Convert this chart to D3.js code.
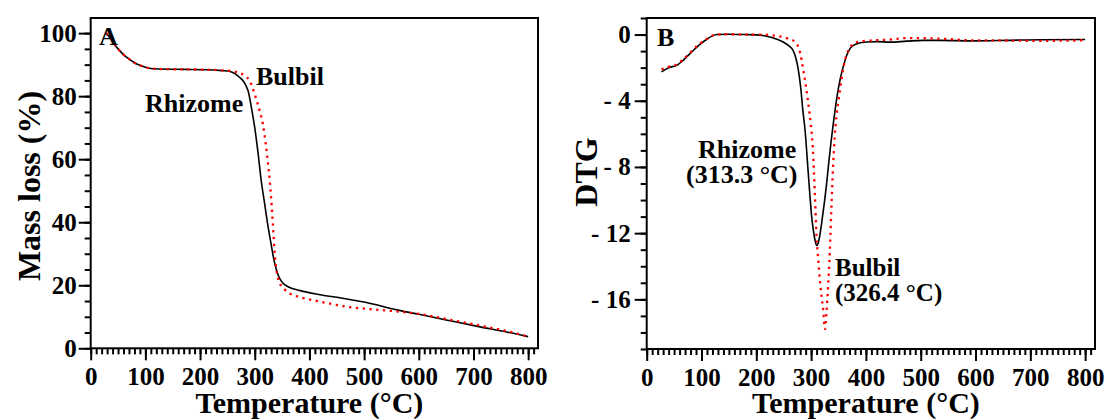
<!DOCTYPE html>
<html>
<head>
<meta charset="utf-8">
<script src="https://cdn.jsdelivr.net/npm/d3@7"></script>
<style>
  body { margin: 0; background: #fff; }
</style>
</head>
<body>
<div id="chart-area"></div>
<script>
const FONT = "Liberation Serif"

// TG curves (temperature °C, mass %)
let rhizomeTG = [[28,100],[35,98.6],[42,96.8],[50,95],[60,93.2],[70,91.8],[80,90.6],[90,89.8],[100,89.2],[110,88.8],[130,88.6],[170,88.5],[210,88.4],[240,88.1],
  [255,87.8],[265,87],[272,86],[279,84.8],[284,83.3],[288,81.6],[294,76.3],[300,70],[306,62],[312,53],[318,46],[324,39],[330,33],[334,29],[340,24.7],[346,22],
  [352,20.6],[360,19.6],[383,18.3],[420,17.0],[460,15.9],[500,14.7],[560,12.2],[600,10.8],[650,9.0],[712,6.8],[760,5.2],[800,3.7]]
let bulbilTG = [[28,100],[35,98.6],[42,96.8],[50,95],[60,93.2],[70,91.8],[80,90.6],[90,89.8],[100,89.2],[110,88.8],[130,88.6],[170,88.5],[210,88.4],[240,88.2],
  [255,88],[265,87.7],[273,87.3],[282,86.5],[291,84.8],[300,80.6],[309,75.3],[315,71],[320,65],[324,59],[328,52],[331,45],[334,37],[337,29],[340,24.5],[346,20.6],
  [355,18.6],[364,17.4],[383,16.2],[420,14.8],[468,13.2],[520,12.3],[560,11.7],[600,10.9],[650,9.3],[712,7.2],[760,5.5],[800,3.7]]

// DTG curves (temperature °C, DTG)
let rhizomeDTG = [[27,-2.26],[40,-2.0],[55,-1.86],[65,-1.6],[79,-1.15],[95,-0.65],[109,-0.3],[120,-0.08],[128,0],[150,0.02],[180,0],[200,-0.02],[212,-0.06],
  [230,-0.2],[249,-0.45],[260,-0.7],[267,-0.95],[272,-1.4],[276,-2],[281,-3.2],[285,-4.6],[289,-5.8],[294,-8],[298,-9.8],[301,-11],[304,-11.8],[307,-12.4],
  [310,-12.75],[313,-12.6],[316,-12.1],[320,-11.2],[324,-10.2],[328,-9.1],[332,-7.8],[336,-6.6],[340,-5.5],[344,-4.5],[348,-3.6],[353,-2.7],[359,-1.9],[365,-1.25],
  [371,-0.85],[380,-0.6],[401,-0.45],[420,-0.43],[444,-0.46],[474,-0.4],[504,-0.35],[535,-0.35],[596,-0.38],[657,-0.35],[718,-0.31],[800,-0.3]]
let bulbilDTG = [[27,-2.1],[40,-1.95],[55,-1.8],[65,-1.55],[79,-1.1],[95,-0.6],[109,-0.28],[120,-0.06],[128,0],[150,0.02],[180,0],[212,0],[240,-0.1],[249,-0.15],
  [262,-0.3],[267,-0.35],[276,-0.7],[280,-1.1],[285,-2],[290,-3],[295,-4.2],[299,-5.3],[303,-6.8],[307,-9.8],[310,-12.2],[313,-13.6],[316,-14.8],[319,-15.8],
  [322,-16.6],[325.4,-17.8],[328,-16.8],[331,-15.2],[334,-13.2],[337,-10.5],[340,-8],[343,-6.2],[346,-5],[350,-4],[355,-2.8],[359,-2],[365,-1.2],[371,-0.8],
  [377,-0.55],[390,-0.42],[413,-0.35],[444,-0.3],[474,-0.21],[535,-0.25],[596,-0.35],[657,-0.36],[718,-0.38],[800,-0.35]]

let xMajor = [0,100,200,300,400,500,600,700,800]
let yMajorA = [0,20,40,60,80,100]
let yMajorB = [0,-4,-8,-12,-16]
let yLabelsB = ["0","- 4","- 8","- 12","- 16"]

const svg = d3.select("#chart-area").append("svg")
    .attr("width", 1105)
    .attr("height", 420)

function panel(opt) {
  const x = d3.scaleLinear().domain([0, 818]).range([opt.left, opt.right])
  const y = d3.scaleLinear().domain(opt.yDomain).range([opt.bottom, opt.top])
  const g = svg.append("g")

  // minor ticks
  g.append("g").attr("transform", "translate(0," + opt.bottom + ")")
    .call(d3.axisBottom(x).tickValues(d3.range(0, 818, 10)).tickSize(6).tickFormat(""))
  g.append("g").attr("transform", "translate(" + opt.left + ",0)")
    .call(d3.axisLeft(y).tickValues(opt.yMinor).tickSize(6).tickFormat(""))

  // major ticks
  g.append("g").attr("transform", "translate(0," + opt.bottom + ")")
    .call(d3.axisBottom(x).tickValues(xMajor).tickSize(12).tickPadding(7).tickFormat(d3.format("d")))
  g.append("g").attr("transform", "translate(" + opt.left + ",0)")
    .call(d3.axisLeft(y).tickValues(opt.yMajor).tickSize(12).tickPadding(opt.yPad)
      .tickFormat((d, i) => opt.yLabels[i]))

  g.selectAll(".domain").remove()
  g.selectAll(".tick line").attr("stroke", "#000").attr("stroke-width", 2)
  g.selectAll(".tick text").attr("font-size", 25).attr("fill", "#000")

  // frame
  g.append("rect")
    .attr("x", opt.left).attr("y", opt.top)
    .attr("width", opt.right - opt.left).attr("height", opt.bottom - opt.top)
    .attr("fill", "none").attr("stroke", "#000").attr("stroke-width", 2)

  const line = d3.line().x(d => x(d[0])).y(d => y(d[1])).curve(d3.curveMonotoneX)

  g.append("path").datum(opt.black).attr("d", line)
    .attr("fill", "none").attr("stroke", "#000").attr("stroke-width", 1.6)
  g.append("path").datum(opt.red).attr("d", line)
    .attr("fill", "none").attr("stroke", "#ff0000").attr("stroke-width", 2.3)
    .attr("stroke-dasharray", "2.3,4.5")

  // axis titles
  g.append("text")
    .attr("x", (x(0) + x(800)) / 2).attr("y", 413)
    .attr("text-anchor", "middle").attr("font-size", 30)
    .text("Temperature (°C)")
  g.append("text")
    .attr("transform", "translate(" + opt.titleX + "," + opt.titleY + ") rotate(-90)")
    .attr("text-anchor", "middle").attr("font-size", 32)
    .text(opt.yTitle)

  opt.notes.forEach(n => {
    g.append("text").attr("x", n[0]).attr("y", n[1])
      .attr("font-size", n[3]).text(n[2])
  })

  g.selectAll("text")
    .attr("font-family", FONT)
    .attr("font-weight", "bold")
    .attr("fill", "#000")
}

panel({
  left: 90.7, right: 538, top: 18, bottom: 348.3,
  yDomain: [0, 104.8],
  yMajor: yMajorA, yLabels: yMajorA.map(String), yMinor: d3.range(0, 105, 5), yPad: 2,
  black: rhizomeTG, red: bulbilTG,
  yTitle: "Mass loss (%)", titleX: 40, titleY: 186,
  notes: [[99, 45, "A", 26], [145, 112, "Rhizome", 26], [256, 85, "Bulbil", 26]]
})

panel({
  left: 646.7, right: 1095, top: 18, bottom: 349,
  yDomain: [-19, 1],
  yMajor: yMajorB, yLabels: yLabelsB, yMinor: d3.range(-19, 1.5, 1), yPad: 4,
  black: rhizomeDTG, red: bulbilDTG,
  yTitle: "DTG", titleX: 597, titleY: 172,
  notes: [[657, 46, "B", 26], [698, 158, "Rhizome", 26], [686, 183, "(313.3 °C)", 26],
          [835, 276, "Bulbil", 25], [835, 301, "(326.4 °C)", 25]]
})
</script>
</body>
</html>
